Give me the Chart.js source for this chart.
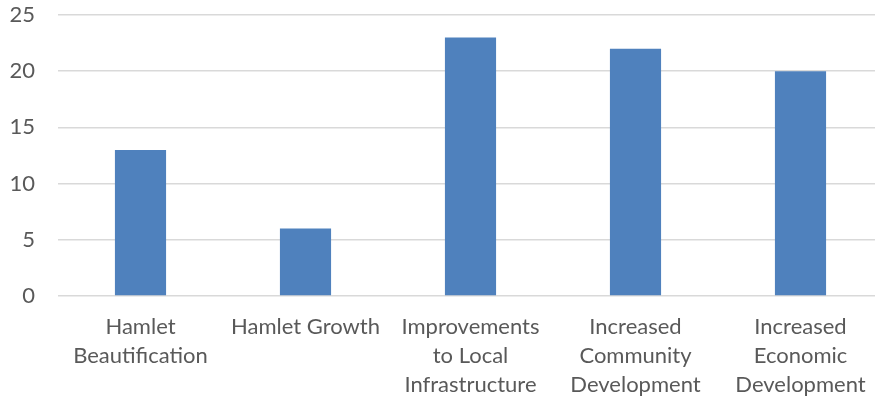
<!DOCTYPE html>
<html>
<head>
<meta charset="utf-8">
<script src="https://cdn.jsdelivr.net/npm/chart.js@4"></script>
<style>
  html, body { margin: 0; padding: 0; background: #fff; overflow: hidden; }
  #wrap { width: 883px; height: 402px; }
</style>
</head>
<body>
<div id="wrap"><canvas id="barChart"></canvas></div>
<script>
// categories and counts
const categories = [
    ["Hamlet", "Beautification"],
    "Hamlet Growth",
    ["Improvements", "to Local", "Infrastructure"],
    ["Increased", "Community", "Development"],
    ["Increased", "Economic", "Development"]
];
const counts = [13, 6, 23, 22, 20];
const yTicks = [0, 5, 10, 15, 20, 25];

const textColor = "#595959";
const family = "Lato, 'Open Sans', sans-serif";

new Chart(document.getElementById("barChart"), {
    type: "bar",
    data: {
        labels: categories,
        datasets: [{
            data: counts,
            backgroundColor: "#4f81bd",
            borderWidth: 0,
            categoryPercentage: 1,
            barPercentage: 0.31
        }]
    },
    options: {
        responsive: true,
        maintainAspectRatio: false,
        animation: false,
        layout: { padding: { top: 15, left: 0, right: 0, bottom: 0 } },
        plugins: {
            legend: { display: false },
            tooltip: { enabled: false }
        },
        scales: {
            x: {
                grid: { display: false, drawTicks: false },
                border: { display: false },
                ticks: {
                    color: textColor,
                    font: { family: family, size: 22, lineHeight: 1.32 },
                    padding: 16,
                    maxRotation: 0,
                    autoSkip: false
                },
                afterFit: axis => {
                    axis.height = 106;
                    axis.paddingLeft = 0;
                    axis.paddingRight = 0;
                }
            },
            y: {
                min: 0,
                max: 25,
                afterBuildTicks: axis => { axis.ticks = yTicks.map(v => ({ value: v })); },
                grid: { color: "#d9d9d9", lineWidth: 1.5, drawTicks: false },
                border: { display: false },
                ticks: { color: textColor, font: { family: family, size: 22, lineHeight: 1.36 }, padding: 23 },
                afterFit: axis => {
                    axis.width = 58;
                    axis.paddingTop = 0;
                    axis.paddingBottom = 0;
                }
            }
        }
    }
});
</script>
</body>
</html>
